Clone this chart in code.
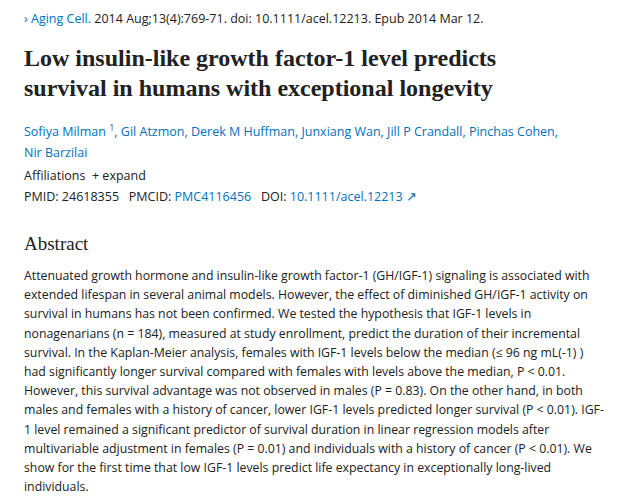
<!DOCTYPE html>
<html>
<head>
<meta charset="utf-8">
<script src="https://cdn.jsdelivr.net/npm/chart.js@4"></script>
<style>
  body { margin: 0; width: 619px; height: 497px; background: #fff; font-family: "Open Sans", "Noto Sans", sans-serif; color: #212121; overflow: hidden; }
  .wrap { position: absolute; left: 24px; top: 0; width: 590px; }
  .cite { position: absolute; top: 10px; font-size: 12.5px; color: #212121; }
  .cite a { color: #0071bc; text-decoration: none; }
  h1 { position: absolute; top: 43px; margin: 0; font-family: "Liberation Serif", "DejaVu Serif", serif; font-weight: bold; font-size: 24px; line-height: 30px; color: #212121; white-space: nowrap; }
  .authors { position: absolute; top: 117px; font-size: 12.5px; line-height: 21px; color: #0071bc; }
  .authors sup { font-size: 9px; color: #555; }
  .aff { position: absolute; top: 167px; font-size: 12.5px; }
  .ids { position: absolute; top: 188px; font-size: 12.5px; }
  .ids a { color: #0071bc; }
  h2 { position: absolute; top: 233px; margin: 0; font-family: "Liberation Serif", "DejaVu Serif", serif; font-weight: normal; font-size: 19px; }
  .abs { position: absolute; top: 266px; font-size: 12.3px; line-height: 19.2px; white-space: nowrap; }
</style>
</head>
<body>
<div class="wrap">
  <div class="cite"><a>&#x203A; Aging Cell.</a> 2014 Aug;13(4):769-71. doi: 10.1111/acel.12213. Epub 2014 Mar 12.</div>
  <h1>Low insulin-like growth factor-1 level predicts<br>survival in humans with exceptional longevity</h1>
  <div class="authors">Sofiya Milman <sup>1</sup>, Gil Atzmon, Derek M Huffman, Junxiang Wan, Jill P Crandall, Pinchas Cohen,<br>Nir Barzilai</div>
  <div class="aff">Affiliations &nbsp;+ expand</div>
  <div class="ids">PMID: 24618355 &nbsp; PMCID: <a>PMC4116456</a> &nbsp; DOI: <a>10.1111/acel.12213 &#x2197;</a></div>
  <h2>Abstract</h2>
  <div class="abs" id="abs"></div>
</div>
<script>
const abstractLines = [
  "Attenuated growth hormone and insulin-like growth factor-1 (GH/IGF-1) signaling is associated with",
  "extended lifespan in several animal models. However, the effect of diminished GH/IGF-1 activity on",
  "survival in humans has not been confirmed. We tested the hypothesis that IGF-1 levels in",
  "nonagenarians (n = 184), measured at study enrollment, predict the duration of their incremental",
  "survival. In the Kaplan-Meier analysis, females with IGF-1 levels below the median (\u2264 96 ng mL(-1) )",
  "had significantly longer survival compared with females with levels above the median, P < 0.01.",
  "However, this survival advantage was not observed in males (P = 0.83). On the other hand, in both",
  "males and females with a history of cancer, lower IGF-1 levels predicted longer survival (P < 0.01). IGF-",
  "1 level remained a significant predictor of survival duration in linear regression models after",
  "multivariable adjustment in females (P = 0.01) and individuals with a history of cancer (P < 0.01). We",
  "show for the first time that low IGF-1 levels predict life expectancy in exceptionally long-lived",
  "individuals."
];
const abs = document.getElementById('abs');
abstractLines.forEach(t => { const d = document.createElement('div'); d.textContent = t; abs.appendChild(d); });
</script>
</body>
</html>
